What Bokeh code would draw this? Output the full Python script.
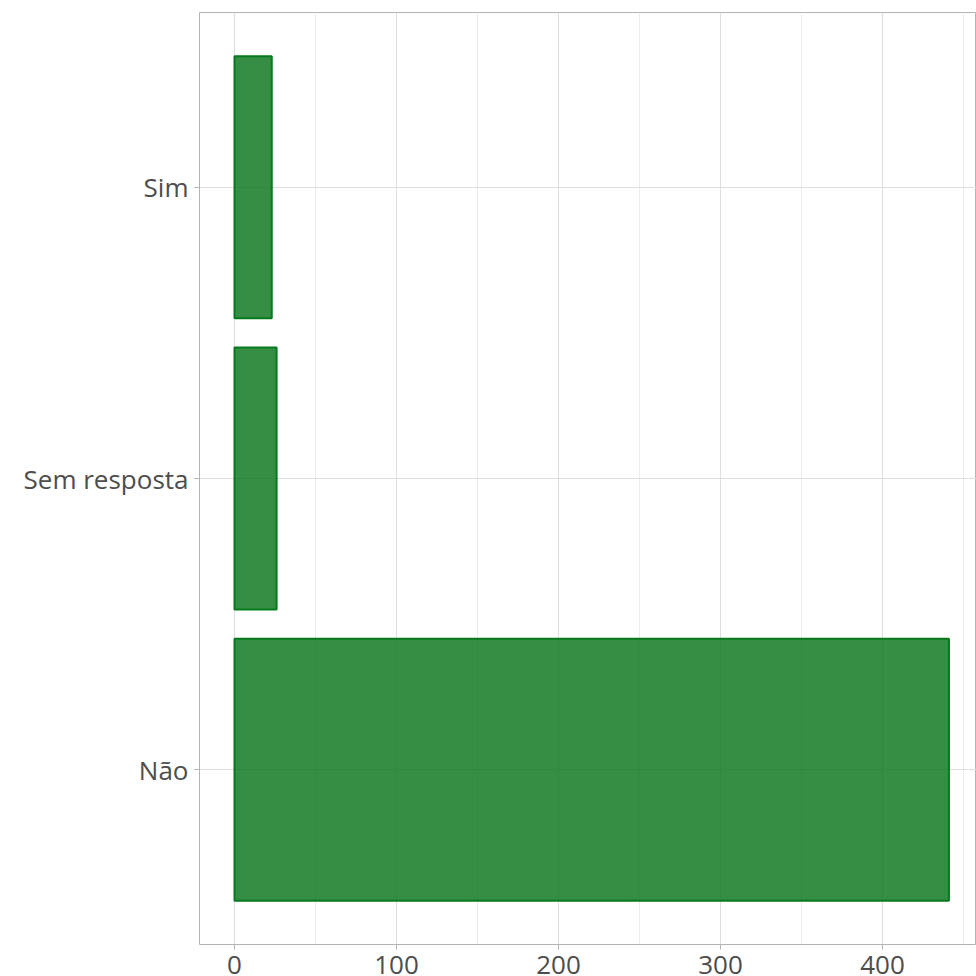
from bokeh.plotting import figure
from bokeh.models import FactorRange, Range1d, FixedTicker
from bokeh.embed import file_html
from bokeh.resources import INLINE

categories = ["Não", "Sem resposta", "Sim"]
counts = [441, 26, 23]
x_ticks = [0, 100, 200, 300, 400]
x_minor_ticks = [50, 150, 250, 350, 450]

p = figure(
    y_range=FactorRange(factors=categories, range_padding=0.1, range_padding_units="absolute"),
    x_range=Range1d(-21.6, 458.0),
    width=976, height=960,
    frame_width=777, frame_height=932,
    min_border_left=199, min_border_top=12, min_border_right=0, min_border_bottom=0,
    output_backend="svg", toolbar_location=None,
)

p.hbar(y=categories, right=counts, left=0, height=0.9,
       fill_color="#027214", fill_alpha=0.8,
       line_color="#067A1E", line_width=2)

p.background_fill_color = "white"
p.border_fill_color = "white"
p.outline_line_color = "#B3B3B3"
p.outline_line_width = 1

ticker = FixedTicker(ticks=x_ticks, minor_ticks=x_minor_ticks)
p.xaxis.ticker = ticker
p.xgrid.ticker = ticker
p.xgrid.grid_line_color = "#DEDEDE"
p.xgrid.grid_line_width = 1
p.xgrid.minor_grid_line_color = "#EBEBEB"
p.xgrid.minor_grid_line_width = 1
p.ygrid.grid_line_color = "#DEDEDE"
p.ygrid.grid_line_width = 1

for ax in (p.xaxis[0], p.yaxis[0]):
    ax.axis_line_color = None
    ax.major_tick_line_color = "#B3B3B3"
    ax.major_tick_in = 0
    ax.major_tick_out = 5
    ax.minor_tick_line_color = None
    ax.major_label_text_font = "Open Sans"
    ax.major_label_text_font_size = "26px"
    ax.major_label_text_color = "#4D4D4D"
    ax.major_label_standoff = 6

open("out.html", "w").write(file_html(p, INLINE))
